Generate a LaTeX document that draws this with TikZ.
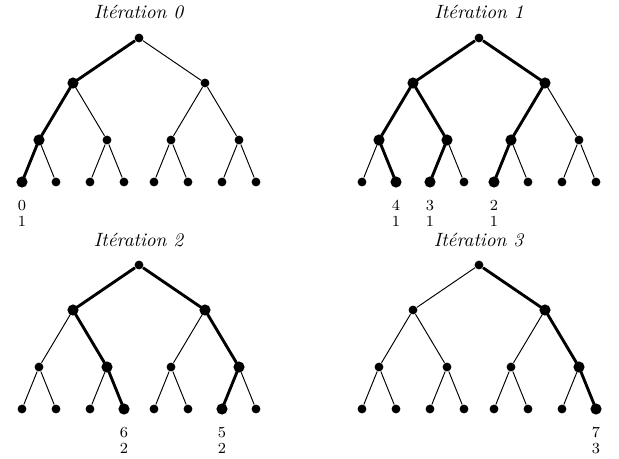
\documentclass[tikz,border=0pt]{standalone}
\usetikzlibrary{positioning}

\tikzset{
  dot/.style={circle,fill,inner sep=0pt,minimum size=4.6pt},
  hot/.style={line width=1.5pt},
  lbl/.style={inner sep=0pt,align=center,font=\fontsize{8}{8.3}\selectfont}
}

\begin{document}
\begin{tikzpicture}[x=0.52pt,y=-0.52pt,line width=0.5pt]
\useasboundingbox (0,0) rectangle (619,459);
% Four copies of the same tree
\foreach \t/\dx/\dy in {0/0/0,1/340/0,2/0/227,3/340/227}{
  \begin{scope}[shift={(\dx,\dy)}]
  % Title
  \node[anchor=base] (title\t) at (139,19) {\textit{Itération \t}};
  % Inner nodes
  \node[dot] (r\t) at (139,38) {};
  \node[dot] (a\t) at (73,83) {};
  \node[dot] (b\t) at (205,83) {};
  \node[dot] (aa\t) at (39,140) {};
  \node[dot] (ab\t) at (107,140) {};
  \node[dot] (ba\t) at (171,140) {};
  \node[dot] (bb\t) at (239,140) {};
  % Leaves
  \foreach \x [count=\i from 0] in {22,56,90,124,154,188,222,256}
    \node[dot] (l\t\i) at (\x,182) {};
  % Thin edges
  \draw (r\t) -- (a\t) (r\t) -- (b\t);
  \draw (a\t) -- (aa\t) (a\t) -- (ab\t) (b\t) -- (ba\t) (b\t) -- (bb\t);
  \draw (aa\t) -- (l\t0) (aa\t) -- (l\t1) (ab\t) -- (l\t2) (ab\t) -- (l\t3);
  \draw (ba\t) -- (l\t4) (ba\t) -- (l\t5) (bb\t) -- (l\t6) (bb\t) -- (l\t7);
  \end{scope}
}
% Iteration 0
\draw[hot] (r0) -- (a0) -- (aa0) -- (l00);
\foreach \n in {a0,aa0,l00} \fill (\n) circle (2.9pt);
\node[lbl,below=6.5pt of l00] (n00) {0\\1};
% Iteration 1
\draw[hot] (a1) -- (r1) -- (b1);
\draw[hot] (l11) -- (aa1) -- (a1) -- (ab1) -- (l12);
\draw[hot] (b1) -- (ba1) -- (l14);
\foreach \n in {a1,b1,aa1,ab1,ba1,l11,l12,l14} \fill (\n) circle (2.9pt);
\node[lbl,below=6.5pt of l11] (n11) {4\\1};
\node[lbl,below=6.5pt of l12] (n12) {3\\1};
\node[lbl,below=6.5pt of l14] (n14) {2\\1};
% Iteration 2
\draw[hot] (l23) -- (ab2) -- (a2) -- (r2) -- (b2) -- (bb2) -- (l26);
\foreach \n in {a2,b2,ab2,bb2,l23,l26} \fill (\n) circle (2.9pt);
\node[lbl,below=6.5pt of l23] (n23) {6\\2};
\node[lbl,below=6.5pt of l26] (n26) {5\\2};
% Iteration 3
\draw[hot] (r3) -- (b3) -- (bb3) -- (l37);
\foreach \n in {b3,bb3,l37} \fill (\n) circle (2.9pt);
\node[lbl,below=6.5pt of l37] (n37) {7\\3};
\end{tikzpicture}
\end{document}
